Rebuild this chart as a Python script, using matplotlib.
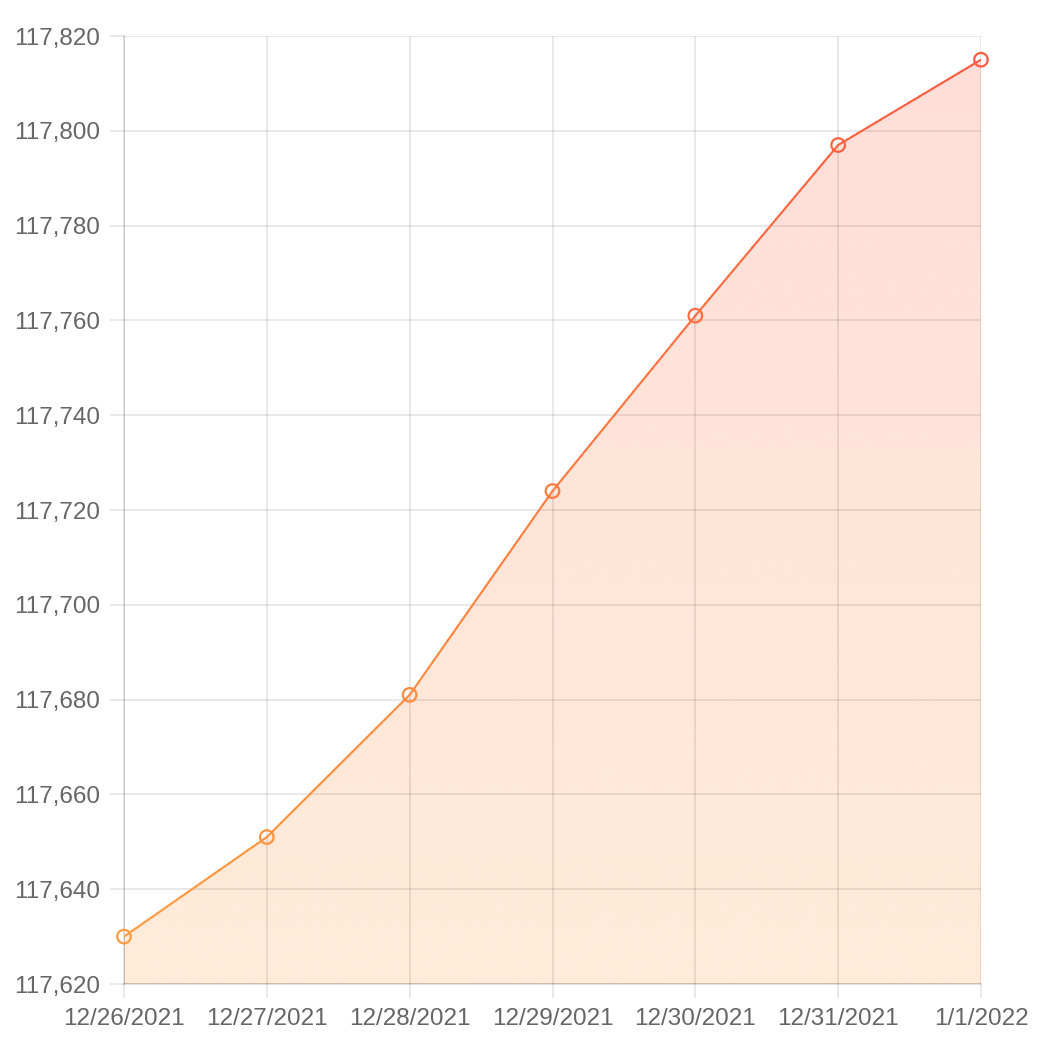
import numpy as np
import matplotlib
matplotlib.use("Agg")
import matplotlib.pyplot as plt
from matplotlib.collections import LineCollection
from matplotlib.colors import LinearSegmentedColormap
from matplotlib.ticker import FuncFormatter, MultipleLocator

# datos
fechas = ["12/26/2021", "12/27/2021", "12/28/2021", "12/29/2021",
          "12/30/2021", "12/31/2021", "1/1/2022"]
valores = [117630, 117651, 117681, 117724, 117761, 117797, 117815]
y_min, y_max = 117620, 117820

plt.rcParams["font.family"] = ["Liberation Sans", "DejaVu Sans"]

color_bajo = "#ff9f40"
color_alto = "#ff5a41"
cmap = LinearSegmentedColormap.from_list("grad", [color_bajo, color_alto])

fig = plt.figure(figsize=(10.46, 10.58), dpi=100)
ax = fig.add_axes([124 / 1046, 1 - 984 / 1058, (981 - 124) / 1046, (984 - 36) / 1058])

x = np.arange(len(valores))
y = np.array(valores, dtype=float)

ax.set_xlim(0, len(valores) - 1)
ax.set_ylim(y_min, y_max)

# relleno con gradiente
grad = np.linspace(0, 1, 256).reshape(-1, 1)
rgba = cmap(grad)
rgba[..., 3] = 0.2
img = ax.imshow(rgba, extent=[0, len(valores) - 1, y_min, y_max], origin="lower",
                aspect="auto", zorder=1, interpolation="bilinear")
poly = ax.fill_between(x, y, y_min, color="none", lw=0)
clip = poly.get_paths()[0]
img.set_clip_path(clip, transform=ax.transData)

# linea con gradiente
xs, ys = [], []
for i in range(len(x) - 1):
    t = np.linspace(0, 1, 30, endpoint=False)
    xs.extend(x[i] + t * (x[i + 1] - x[i]))
    ys.extend(y[i] + t * (y[i + 1] - y[i]))
xs.append(x[-1]); ys.append(y[-1])
pts = np.array([xs, ys]).T.reshape(-1, 1, 2)
segs = np.concatenate([pts[:-1], pts[1:]], axis=1)
mid = (np.array(ys[:-1]) + np.array(ys[1:])) / 2
lc = LineCollection(segs, colors=cmap((mid - y_min) / (y_max - y_min)), linewidths=1.5,
                    zorder=3, capstyle="round")
ax.add_collection(lc)

# marcadores
ax.scatter(x, y, s=95, facecolors="none",
           edgecolors=cmap((y - y_min) / (y_max - y_min)), linewidths=1.6,
           zorder=4, clip_on=False)

# ejes y grilla
ax.yaxis.set_major_locator(MultipleLocator(20))
ax.yaxis.set_major_formatter(FuncFormatter(lambda v, p: f"{int(round(v)):,}"))
ax.set_xticks(x)
ax.set_xticklabels(fechas)
ax.grid(True, color="black", alpha=0.11, linewidth=1.1)
for s in ax.spines.values():
    s.set_visible(False)
for lado in ["left", "bottom"]:
    ax.spines[lado].set_visible(True)
    ax.spines[lado].set_color((0, 0, 0, 0.14))
    ax.spines[lado].set_linewidth(1.2)
ax.tick_params(axis="both", length=10, width=1.1, color="#e3e3e3",
               labelsize=17.5, labelcolor="#666666", pad=7)
for gl in ax.get_xgridlines() + ax.get_ygridlines():
    gl.set_zorder(2)

fig.savefig("out.png", dpi=100, facecolor="white")
